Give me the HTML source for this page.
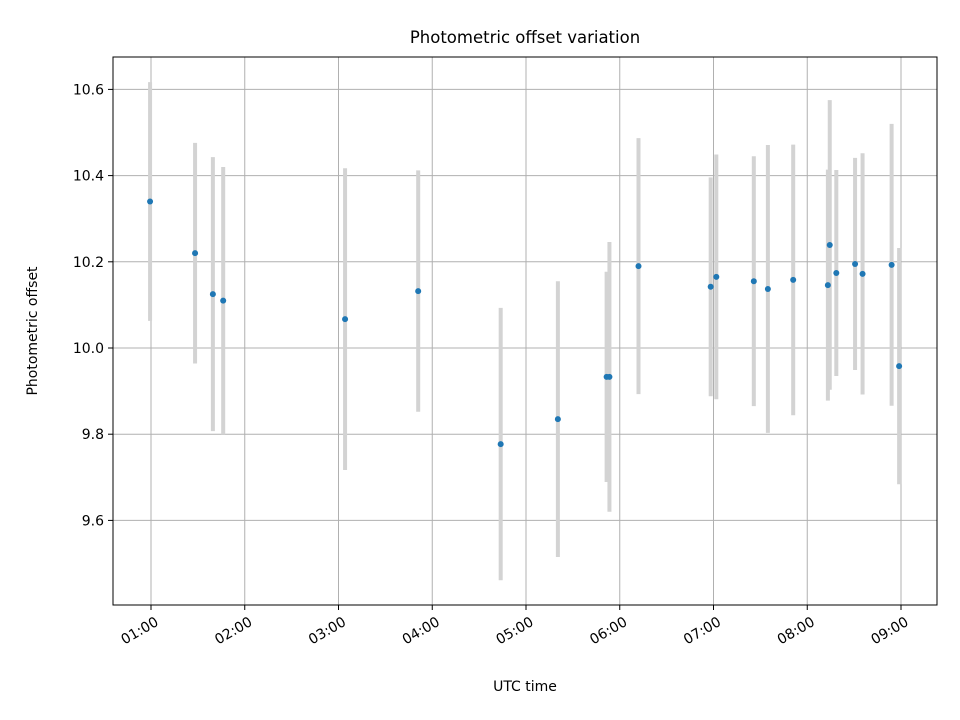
<!DOCTYPE html>
<html><head><meta charset="utf-8"><style>
body{margin:0;background:#fff;}
svg{display:block;font-family:"DejaVu Sans","Liberation Sans",sans-serif;}
</style></head><body>
<svg id="chart" width="960" height="720">
<rect width="960" height="720" fill="#fff"/>
<text x="525" y="43" text-anchor="middle" font-size="16.5" fill="#000">Photometric offset variation</text>
<text x="525" y="691" text-anchor="middle" font-size="14" fill="#000">UTC time</text>
<text transform="translate(37,331) rotate(-90)" text-anchor="middle" font-size="14" fill="#000">Photometric offset</text>
<g id="grid"></g><g id="bars"></g><g id="pts"></g><g id="ticks"></g>
<rect x="113" y="57" width="824" height="548" fill="none" stroke="#000" stroke-width="1"/>
</svg>
<script>
const times = [0.99,1.47,1.66,1.77,3.07,3.85,4.73,5.34,5.86,5.89,6.20,6.97,7.03,7.43,7.58,7.85,8.22,8.24,8.31,8.51,8.59,8.90,8.98];
const offsets = [10.34,10.22,10.125,10.11,10.067,10.132,9.777,9.835,9.933,9.933,10.19,10.142,10.165,10.155,10.137,10.158,10.146,10.239,10.174,10.195,10.172,10.193,9.958];
const errors = [0.277,0.256,0.318,0.31,0.35,0.28,0.316,0.32,0.244,0.313,0.297,0.254,0.284,0.29,0.334,0.314,0.268,0.336,0.239,0.246,0.28,0.327,0.274];
const xTickHours = [1,2,3,4,5,6,7,8,9];
const xTickLabels = ["01:00","02:00","03:00","04:00","05:00","06:00","07:00","08:00","09:00"];
const yTicks = [9.6,9.8,10.0,10.2,10.4,10.6];
const yTickLabels = ["9.6","9.8","10.0","10.2","10.4","10.6"];

const NS="http://www.w3.org/2000/svg";
function X(h){return 151+(h-1)*93.75;}
function Y(v){return 348-(v-10)*431;}
function mk(tag,attrs,parent){const e=document.createElementNS(NS,tag);for(const k in attrs)e.setAttribute(k,attrs[k]);parent.appendChild(e);return e;}
const grid=document.getElementById('grid'),bars=document.getElementById('bars'),pts=document.getElementById('pts'),ticks=document.getElementById('ticks');

xTickHours.forEach((h,i)=>{
  const x=X(h);
  const g=mk('line',{x1:x,x2:x,y1:57,y2:605,stroke:'#b0b0b0','stroke-width':1},grid);
  
  
  const t=mk('line',{x1:x,x2:x,y1:605,y2:610,stroke:'#000'},ticks);
  
  
  const ax=x+3, ay=615;
  const l=mk('text',{x:ax,y:ay+11,'font-size':14,'text-anchor':'end',transform:`rotate(-30 ${ax} ${ay})`},ticks);
  l.textContent=xTickLabels[i];
  
  
});
yTicks.forEach((v,i)=>{
  const y=Y(v);
  const g=mk('line',{x1:113,x2:937,y1:y,y2:y,stroke:'#b0b0b0','stroke-width':1},grid);
  
  
  const t=mk('line',{x1:108,x2:113,y1:y,y2:y,stroke:'#000'},ticks);
  
  
  const l=mk('text',{x:104,y:y+5,'font-size':14,'text-anchor':'end'},ticks);
  l.textContent=yTickLabels[i];
  
  
});
times.forEach((h,i)=>{
  const x=X(h);
  const b=mk('line',{x1:x,x2:x,y1:Y(offsets[i]+errors[i]),y2:Y(offsets[i]-errors[i]),stroke:'#d3d3d3','stroke-width':4},bars);
  
  
  const p=mk('circle',{cx:x,cy:Y(offsets[i]),r:3,fill:'#1f77b4'},pts);
  
  
});
</script>
</body></html>
